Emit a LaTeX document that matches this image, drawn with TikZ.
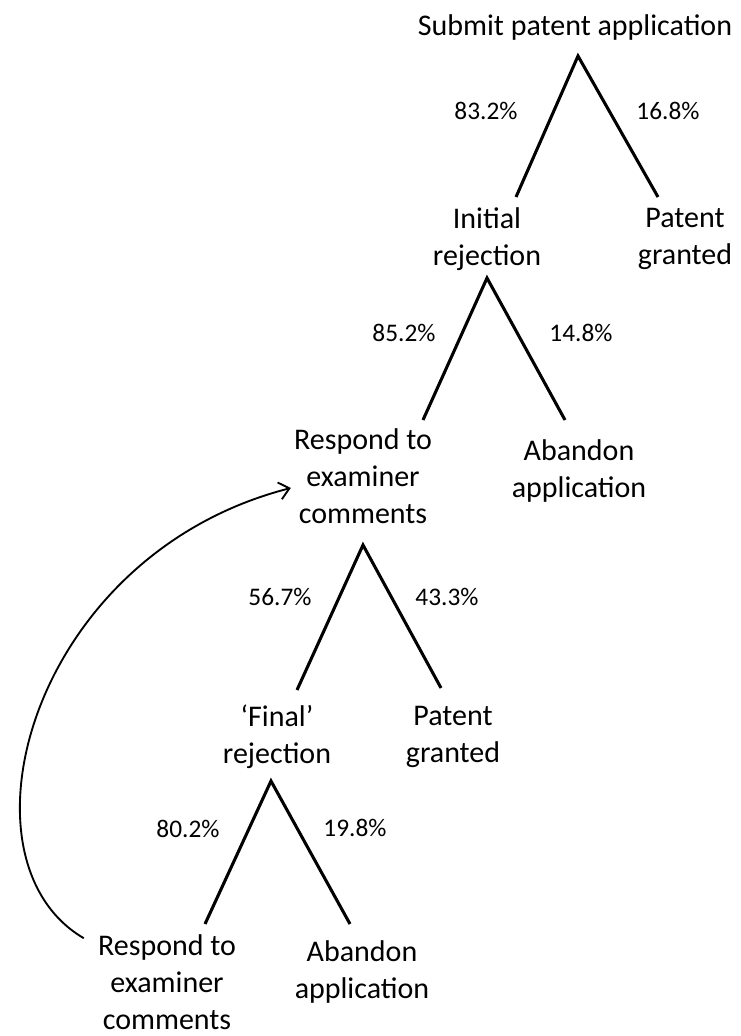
\documentclass[tikz,border=0pt]{standalone}
\usepackage{fontspec}
\setmainfont{Carlito}
\usetikzlibrary{calc,arrows.meta}

\begin{document}
\begin{tikzpicture}[x=0.75pt,y=-0.75pt]
    \tikzstyle{outcome}=[align=center, inner sep=0pt, font=\fontsize{22.5}{27.75}\selectfont]
    \tikzstyle{share}=[inner sep=0pt, font=\fontsize{19}{23}\selectfont]
    \tikzstyle{branch}=[line width=2.3pt]
    \tikzstyle{loop}=[line width=1.4pt, -{Straight Barb[length=7.5pt,width=13pt,line width=1.4pt]}]
    \useasboundingbox (0,0) rectangle (740,1036);

    \node (Submit) [outcome] at (575,27) {Submit patent application};
    \coordinate (Top1) at (578,56);
    \coordinate (Top1L) at (516,197);
    \coordinate (Top1R) at (658,197);
    \draw [branch] (Top1L) -- (Top1) -- (Top1R);
    \node (P1L) [share] at (486,111) {83.2\%};
    \node (P1R) [share] at (668,111) {16.8\%};
    \node (Reject1) [outcome] at (487,239) {Initial\\rejection};
    \node (Grant1) [outcome] at (685,239) {Patent\\granted};

    \coordinate (Top2) at (487,278);
    \coordinate (Top2L) at (423,420);
    \coordinate (Top2R) at (565,420);
    \draw [branch] (Top2L) -- (Top2) -- (Top2R);
    \node (P2L) [share] at (404,333) {85.2\%};
    \node (P2R) [share] at (581,333) {14.8\%};
    \node (Respond1) [outcome] at (363,476) {Respond to\\examiner\\comments};
    \node (Abandon1) [outcome] at (579,471) {Abandon\\application};

    \coordinate (Top3) at (363,545);
    \coordinate (Top3L) at (297,690);
    \coordinate (Top3R) at (441,688);
    \draw [branch] (Top3L) -- (Top3) -- (Top3R);
    \node (P3L) [share] at (280,597) {56.7\%};
    \node (P3R) [share] at (447,597) {43.3\%};
    \node (Reject2) [outcome] at (277,737) {‘Final’\\rejection};
    \node (Grant2) [outcome] at (453,737) {Patent\\granted};

    \coordinate (Top4) at (271,781);
    \coordinate (Top4L) at (205,924);
    \coordinate (Top4R) at (350,924);
    \draw [branch] (Top4L) -- (Top4) -- (Top4R);
    \node (P4L) [share] at (188,829) {80.2\%};
    \node (P4R) [share] at (355,828) {19.8\%};
    \node (Respond2) [outcome] at (167,982) {Respond to\\examiner\\comments};
    \node (Abandon2) [outcome] at (362,972) {Abandon\\application};

    \draw [loop] ($(Respond2.north west)+(-14,4)$) .. controls (-50,860) and (30,555) .. ($(Respond1.west)+(-3,12)$);

\end{tikzpicture}
\end{document}
